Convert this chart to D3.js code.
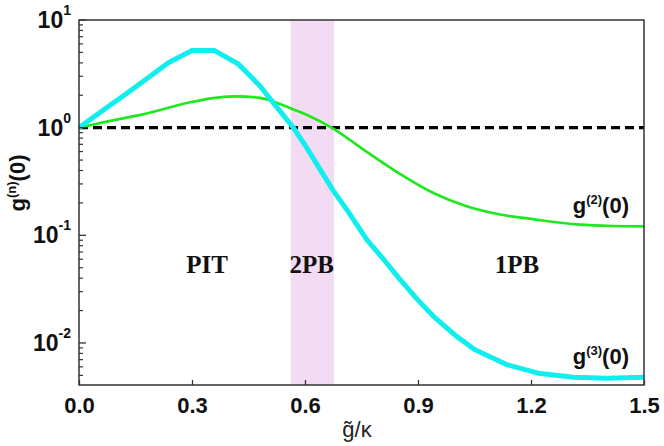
<!DOCTYPE html>
<html><head><meta charset="utf-8">
<script src="https://cdn.jsdelivr.net/npm/d3@7"></script>
<style>body{margin:0;background:#fff}</style>
</head><body><svg id="c" width="664" height="446"></svg>
<script>
// ---- data ----
const xTicks = [0, 0.3, 0.6, 0.9, 1.2, 1.5];
const xTickLabels = ["0.0", "0.3", "0.6", "0.9", "1.2", "1.5"];
const yTicks = [10, 1, 0.1, 0.01];
const yTickExps = ["1", "0", "-1", "-2"];
const band = [0.562, 0.677];
const refLevel = 1;
const g3X = [0, 0.06, 0.12, 0.18, 0.237, 0.30, 0.36, 0.423, 0.48, 0.516, 0.569, 0.60, 0.64, 0.675, 0.711, 0.764, 0.81, 0.852, 0.90, 0.941, 1.0, 1.05, 1.135, 1.224, 1.312, 1.40, 1.5];
const g3Y = [1, 1.42, 2.0, 2.85, 4.0, 5.2, 5.2, 3.9, 2.45, 1.70, 1.0, 0.69, 0.41, 0.26, 0.173, 0.091, 0.059, 0.039, 0.025, 0.0177, 0.0117, 0.0087, 0.0063, 0.0052, 0.0048, 0.0047, 0.0048];
const g2X = [0, 0.08, 0.166, 0.299, 0.361, 0.42, 0.48, 0.516, 0.56, 0.604, 0.675, 0.746, 0.80, 0.852, 0.941, 1.029, 1.118, 1.20, 1.33, 1.42, 1.5];
const g2Y = [1, 1.15, 1.32, 1.73, 1.89, 1.95, 1.89, 1.75, 1.52, 1.32, 0.98, 0.66, 0.49, 0.372, 0.247, 0.186, 0.156, 0.142, 0.1256, 0.122, 0.121];
const regionNames = ["PIT", "2PB", "1PB"];
const regionCenters = [0.34, 0.618, 1.163];

// ---- layout ----
const L = 79, R = 644, T = 20, B = 385;
const svg = d3.select("#c");
const x = d3.scaleLinear().domain([0, 1.5]).range([L, R]);
const y = d3.scaleLog().domain([0.00407, 10]).range([B, T]);

// band
svg.append("rect").attr("x", x(band[0])).attr("y", T)
  .attr("width", x(band[1]) - x(band[0])).attr("height", B - T)
  .attr("fill", "#f3dcf3");

// reference dashed line
svg.append("line").attr("x1", x(0)).attr("x2", x(1.5))
  .attr("y1", y(refLevel)).attr("y2", y(refLevel))
  .attr("stroke", "#000").attr("stroke-width", 3.2).attr("stroke-dasharray", "9,5");

const lineLin = d3.line().x(d => x(d[0])).y(d => y(d[1]));
const lineSmooth = d3.line().x(d => x(d[0])).y(d => y(d[1])).curve(d3.curveMonotoneX);

svg.append("path").datum(g2X.map((v, i) => [v, g2Y[i]]))
  .attr("d", lineSmooth).attr("fill", "none").attr("stroke", "#1ee81e").attr("stroke-width", 2.7)
  .attr("stroke-linejoin", "round");
svg.append("path").datum(g3X.map((v, i) => [v, g3Y[i]]))
  .attr("d", lineLin).attr("fill", "none").attr("stroke", "#10eeee").attr("stroke-width", 5)
  .attr("stroke-linejoin", "round");

// frame
svg.append("rect").attr("x", L).attr("y", T).attr("width", R - L).attr("height", B - T)
  .attr("fill", "none").attr("stroke", "#333").attr("stroke-width", 1.5);

// x axis ticks (inward)
const xAxis = d3.axisBottom(x).tickValues(xTicks).tickSizeInner(-5).tickSizeOuter(0)
  .tickFormat((d, i) => xTickLabels[i]);
const gx = svg.append("g").attr("transform", `translate(0,${B})`).call(xAxis);
gx.select(".domain").remove();
gx.selectAll(".tick line").attr("stroke", "#333").attr("stroke-width", 1.3);
gx.selectAll(".tick text").attr("y", 12).attr("dy", "0.71em")
  .attr("font-family", "Liberation Sans, Arial, sans-serif").attr("font-weight", "bold")
  .attr("font-size", 22).attr("fill", "#111");

// y axis minor ticks
const minor = [];
for (let e = -3; e <= 0; e++) for (let m = 2; m <= 9; m++) {
  const v = m * Math.pow(10, e);
  if (v >= y.domain()[0] && v <= 10) minor.push(v);
}
svg.selectAll(".ymin").data(minor).enter().append("line")
  .attr("x1", L).attr("x2", L + 4).attr("y1", d => y(d)).attr("y2", d => y(d))
  .attr("stroke", "#333").attr("stroke-width", 1.2);
svg.selectAll(".ymaj").data(yTicks).enter().append("line")
  .attr("x1", L).attr("x2", L + 7).attr("y1", d => y(d)).attr("y2", d => y(d))
  .attr("stroke", "#333").attr("stroke-width", 1.3);

// y tick labels
const yl = svg.selectAll(".ylab").data(yTicks).enter().append("text")
  .attr("x", 71).attr("y", d => y(d) + 8).attr("text-anchor", "end")
  .attr("font-family", "Liberation Sans, Arial, sans-serif").attr("font-weight", "bold").attr("fill", "#111");
yl.append("tspan").attr("font-size", 23).text("10");
yl.append("tspan").attr("font-size", 14).attr("dy", -13).text((d, i) => yTickExps[i]);

// y axis label
const ylab = svg.append("text").attr("transform", "translate(25,183) rotate(-90)")
  .attr("text-anchor", "middle").attr("font-family", "Liberation Sans, Arial, sans-serif")
  .attr("font-weight", "bold").attr("font-size", 22).attr("fill", "#111");
ylab.append("tspan").text("g");
ylab.append("tspan").attr("font-size", 13).attr("dy", -9).text("(n)");
ylab.append("tspan").attr("dy", 9).text("(0)");

// x axis label
svg.append("text").attr("x", 357).attr("y", 437).attr("text-anchor", "middle")
  .attr("font-family", "Liberation Sans, Arial, sans-serif").attr("font-size", 22).attr("fill", "#222")
  .text("g\u0303/\u03ba");

// region labels
svg.selectAll(".reg").data(regionNames).enter().append("text")
  .attr("x", (d, i) => x(regionCenters[i])).attr("y", 273).attr("text-anchor", "middle")
  .attr("font-family", "Liberation Serif, Times New Roman, serif").attr("font-weight", "bold")
  .attr("font-size", 25).attr("fill", "#111").text(d => d);

// curve labels
function curveLabel(n, xx, yy) {
  const t = svg.append("text").attr("x", xx).attr("y", yy).attr("text-anchor", "end")
    .attr("font-family", "Liberation Sans, Arial, sans-serif").attr("font-weight", "bold")
    .attr("font-size", 22).attr("fill", "#111");
  t.append("tspan").text("g");
  t.append("tspan").attr("font-size", 13).attr("dy", -9).text(`(${n})`);
  t.append("tspan").attr("dy", 9).text("(0)");
}
curveLabel(2, 629, 213);
curveLabel(3, 629, 364);
</script></body></html>
